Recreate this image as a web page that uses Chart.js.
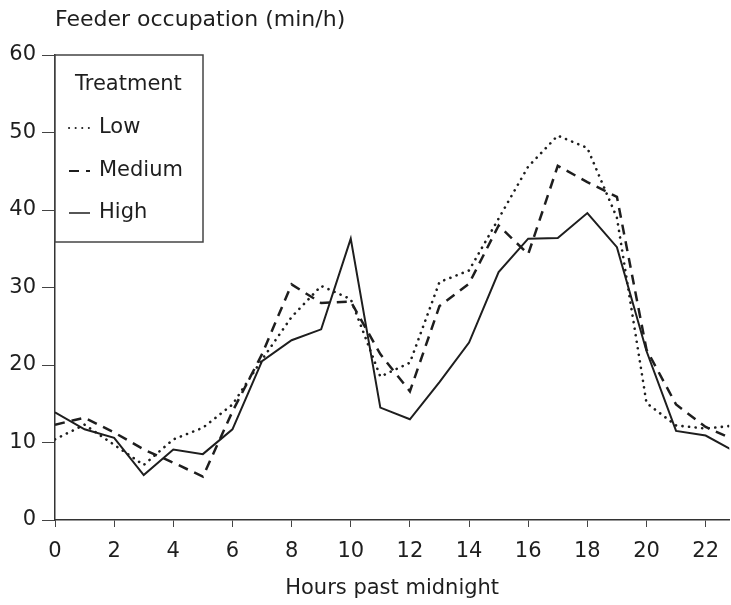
<!DOCTYPE html>
<html>
<head>
<meta charset="utf-8">
<script src="https://cdn.jsdelivr.net/npm/chart.js@4"></script>
<style>
  html, body { margin: 0; padding: 0; background: #fff; }
  #wrap { width: 731px; height: 605px; }
</style>
</head>
<body>
<div id="wrap"><canvas id="my-Chart" width="731" height="605"></canvas></div>
<script>
// dados
const hours = [0, 1, 2, 3, 4, 5, 6, 7, 8, 9, 10, 11, 12, 13, 14, 15, 16, 17, 18, 19, 20, 21, 22, 23];
const lowValues = [10.4, 12.3, 9.7, 7.1, 10.4, 11.9, 14.9, 20.7, 26.2, 30.2, 28.5, 18.5, 20.3, 30.7, 32.2, 38.9, 45.6, 49.6, 48.0, 39.0, 15.1, 12.2, 11.8, 12.2];
const mediumValues = [12.3, 13.2, 11.3, 9.1, 7.4, 5.6, 14.0, 21.4, 30.4, 28.0, 28.2, 21.4, 16.6, 27.6, 30.5, 38.0, 34.3, 45.7, 43.6, 41.7, 22.0, 14.9, 12.0, 10.3];
const highValues = [13.9, 11.7, 10.6, 5.8, 9.1, 8.5, 11.7, 20.5, 23.2, 24.6, 36.3, 14.5, 13.0, 17.8, 22.9, 32.0, 36.3, 36.4, 39.6, 35.2, 21.8, 11.5, 10.9, 8.8];
const seriesNames = ['Low', 'Medium', 'High'];
const xTicks = [0, 2, 4, 6, 8, 10, 12, 14, 16, 18, 20, 22];

const ink = '#1e1e1e';
const fontName = "'DejaVu Sans', sans-serif";

function toPoints(vals) {
    return vals.map((v, i) => ({ x: hours[i], y: v }));
}

// titulo e legenda desenhados por cima
const extras = {
    id: 'extras',
    afterDraw(chart) {
        const ctx = chart.ctx;
        const area = chart.chartArea;
        ctx.save();
        ctx.fillStyle = ink;
        ctx.textBaseline = 'middle';
        ctx.textAlign = 'left';
        ctx.font = '22px ' + fontName;
        ctx.fillText('Feeder occupation (min/h)', area.left, 20);

        // caixa da legenda
        const box = { l: area.left, t: area.top, r: 203, b: 242 };
        ctx.fillStyle = '#fff';
        ctx.fillRect(box.l, box.t, box.r - box.l, box.b - box.t);
        ctx.strokeStyle = '#444';
        ctx.lineWidth = 1.5;
        ctx.strokeRect(box.l, box.t, box.r - box.l, box.b - box.t);

        ctx.fillStyle = ink;
        ctx.font = '21px ' + fontName;
        ctx.fillText('Treatment', 75, 85);

        const rowsY = [128, 171, 213];
        chart.data.datasets.forEach((ds, i) => {
            const y = rowsY[i];
            ctx.beginPath();
            ctx.setLineDash(ds.borderDash || []);
            ctx.lineCap = ds.borderCapStyle || 'butt';
            ctx.lineWidth = i === 2 ? 1.5 : 2;
            ctx.strokeStyle = ink;
            ctx.moveTo(69, y);
            ctx.lineTo(90, y);
            ctx.stroke();
            ctx.setLineDash([]);
            ctx.fillText(ds.label, 99, y);
        });
        ctx.restore();
    }
};

function plotChart() {
    const el = document.querySelector('#my-Chart');
    new Chart(el, {
        type: 'line',
        data: {
            datasets: [
                {
                    label: seriesNames[0],
                    data: toPoints(lowValues),
                    borderColor: ink,
                    borderWidth: 2.6,
                    borderDash: [0.1, 6.5],
                    borderCapStyle: 'round',
                    pointRadius: 0,
                    tension: 0
                },
                {
                    label: seriesNames[1],
                    data: toPoints(mediumValues),
                    borderColor: ink,
                    borderWidth: 2.5,
                    borderDash: [10, 7],
                    pointRadius: 0,
                    tension: 0
                },
                {
                    label: seriesNames[2],
                    data: toPoints(highValues),
                    borderColor: ink,
                    borderWidth: 2,
                    pointRadius: 0,
                    tension: 0
                }
            ]
        },
        options: {
            responsive: false,
            animation: false,
            devicePixelRatio: 1,
            layout: { padding: { top: 55, left: 0, right: 0, bottom: 0 } },
            plugins: {
                legend: { display: false },
                tooltip: { enabled: false }
            },
            scales: {
                x: {
                    type: 'linear',
                    min: 0,
                    max: 22.8,
                    afterBuildTicks(scale) {
                        scale.ticks = xTicks.map(v => ({ value: v }));
                    },
                    afterFit(scale) { scale.height = 85; },
                    grid: { drawOnChartArea: false, drawTicks: true, tickLength: 7, color: '#444', tickWidth: 1 },
                    border: { display: true, color: '#333', width: 1.5 },
                    ticks: { color: ink, font: { family: fontName, size: 21 }, padding: 12, maxRotation: 0 },
                    title: {
                        display: true,
                        text: 'Hours past midnight',
                        color: ink,
                        font: { family: fontName, size: 21 },
                        padding: { top: 10 }
                    }
                },
                y: {
                    min: 0,
                    max: 60,
                    afterFit(scale) { scale.width = 55; },
                    grid: { drawOnChartArea: false, drawTicks: true, tickLength: 13, color: '#444', tickWidth: 1 },
                    border: { display: true, color: '#333', width: 1.5 },
                    ticks: { stepSize: 10, color: ink, font: { family: fontName, size: 21 }, padding: 6 }
                }
            }
        },
        plugins: [extras]
    });
}

plotChart();
</script>
</body>
</html>
